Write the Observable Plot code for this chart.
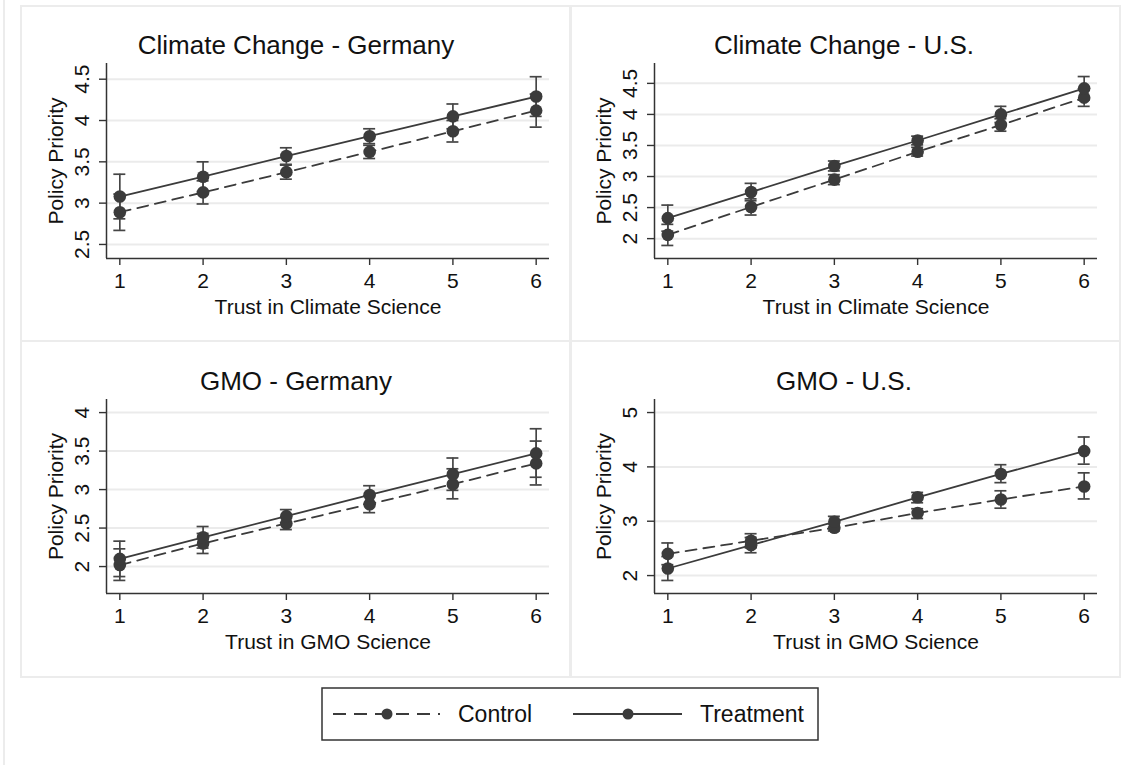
<!DOCTYPE html>
<html><head><meta charset="utf-8">
<script src="https://cdn.jsdelivr.net/npm/d3@7"></script>
<script src="https://cdn.jsdelivr.net/npm/@observablehq/plot@0.6"></script>
<style>
html,body{margin:0;padding:0;background:#fff;}
#root{position:relative;width:1129px;height:765px;overflow:hidden;font-family:"Liberation Sans",Arial,sans-serif;}
.box{position:absolute;box-sizing:border-box;border:2px solid #ececec;}
.title{position:absolute;width:548px;text-align:center;font-size:26px;line-height:26px;color:#111;white-space:nowrap;}
.plot{position:absolute;}
</style>
</head><body><div id="root"></div>
<script>
// ---- data ----
const trust = [1, 2, 3, 4, 5, 6];
const panelTitles = ["Climate Change - Germany", "Climate Change - U.S.", "GMO - Germany", "GMO - U.S."];
const xLabels = ["Trust in Climate Science", "Trust in Climate Science", "Trust in GMO Science", "Trust in GMO Science"];
const yLabel = "Policy Priority";
const groups = ["Control", "Treatment"];

// Climate Change - Germany
const ccDeControl   = [2.89, 3.13, 3.375, 3.62, 3.87, 4.12];
const ccDeControlLo = [2.67, 2.99, 3.29, 3.54, 3.74, 3.92];
const ccDeControlHi = [3.11, 3.27, 3.46, 3.70, 4.00, 4.32];
const ccDeTreat     = [3.08, 3.32, 3.57, 3.81, 4.05, 4.29];
const ccDeTreatLo   = [2.81, 3.14, 3.47, 3.72, 3.90, 4.05];
const ccDeTreatHi   = [3.35, 3.50, 3.67, 3.90, 4.20, 4.53];
const ccDeTicks = [2.5, 3, 3.5, 4, 4.5];

// Climate Change - U.S.
const ccUsControl   = [2.06, 2.51, 2.95, 3.40, 3.83, 4.27];
const ccUsControlLo = [1.89, 2.38, 2.87, 3.33, 3.73, 4.13];
const ccUsControlHi = [2.23, 2.64, 3.03, 3.47, 3.93, 4.41];
const ccUsTreat     = [2.33, 2.75, 3.17, 3.58, 4.00, 4.42];
const ccUsTreatLo   = [2.12, 2.61, 3.09, 3.51, 3.87, 4.23];
const ccUsTreatHi   = [2.54, 2.89, 3.25, 3.65, 4.13, 4.61];
const ccUsTicks = [2, 2.5, 3, 3.5, 4, 4.5];

// GMO - Germany
const gmDeControl   = [2.02, 2.30, 2.56, 2.81, 3.07, 3.34];
const gmDeControlLo = [1.82, 2.17, 2.48, 2.70, 2.88, 3.06];
const gmDeControlHi = [2.23, 2.43, 2.64, 2.92, 3.27, 3.63];
const gmDeTreat     = [2.10, 2.38, 2.655, 2.93, 3.20, 3.47];
const gmDeTreatLo   = [1.87, 2.24, 2.57, 2.81, 2.99, 3.16];
const gmDeTreatHi   = [2.33, 2.52, 2.74, 3.05, 3.41, 3.79];
const gmDeTicks = [2, 2.5, 3, 3.5, 4];

// GMO - U.S.
const gmUsControl   = [2.40, 2.64, 2.88, 3.15, 3.40, 3.64];
const gmUsControlLo = [2.20, 2.51, 2.82, 3.05, 3.24, 3.41];
const gmUsControlHi = [2.60, 2.77, 2.95, 3.23, 3.56, 3.89];
const gmUsTreat     = [2.13, 2.56, 2.99, 3.44, 3.87, 4.29];
const gmUsTreatLo   = [1.91, 2.42, 2.89, 3.34, 3.71, 4.05];
const gmUsTreatHi   = [2.35, 2.70, 3.09, 3.53, 4.04, 4.55];
const gmUsTicks = [2, 3, 4, 5];

// ---- layout ----
const panels = [
  {left: 22, top: 7, title: panelTitles[0], xLabel: xLabels[0], yDomain: [2.33, 4.69], yTicks: ccDeTicks,
   c: [ccDeControl, ccDeControlLo, ccDeControlHi], t: [ccDeTreat, ccDeTreatLo, ccDeTreatHi], mt: 56, mb: 83, titleTop: 32},
  {left: 570, top: 7, title: panelTitles[1], xLabel: xLabels[1], yDomain: [1.68, 4.82], yTicks: ccUsTicks,
   c: [ccUsControl, ccUsControlLo, ccUsControlHi], t: [ccUsTreat, ccUsTreatLo, ccUsTreatHi], mt: 56, mb: 83, titleTop: 32},
  {left: 22, top: 342, title: panelTitles[2], xLabel: xLabels[2], yDomain: [1.65, 4.17], yTicks: gmDeTicks,
   c: [gmDeControl, gmDeControlLo, gmDeControlHi], t: [gmDeTreat, gmDeTreatLo, gmDeTreatHi], mt: 57, mb: 83, titleTop: 368},
  {left: 570, top: 342, title: panelTitles[3], xLabel: xLabels[3], yDomain: [1.67, 5.24], yTicks: gmUsTicks,
   c: [gmUsControl, gmUsControlLo, gmUsControlHi], t: [gmUsTreat, gmUsTreatLo, gmUsTreatHi], mt: 57, mb: 83, titleTop: 368}
];

const root = document.getElementById("root");
const ink = "#3b3b3b";
const xDomain = [0.84, 6.16];

// outer left line and panel boxes
const edge = document.createElement("div");
Object.assign(edge.style, {position: "absolute", left: "3px", top: "0px", width: "2px", height: "765px", background: "#ececec"});
root.appendChild(edge);
[[20, 5, 552, 337], [569, 5, 552, 337], [20, 340, 552, 338], [569, 340, 552, 338]].forEach(([l, t, w, h]) => {
  const b = document.createElement("div");
  b.className = "box";
  Object.assign(b.style, {left: l + "px", top: t + "px", width: w + "px", height: h + "px"});
  root.appendChild(b);
});

panels.forEach(p => {
  const rows = [];
  trust.forEach((x, i) => rows.push({x, group: groups[0], y: p.c[0][i], lo: p.c[1][i], hi: p.c[2][i]}));
  trust.forEach((x, i) => rows.push({x, group: groups[1], y: p.t[0][i], lo: p.t[1][i], hi: p.t[2][i]}));
  const ctrl = rows.filter(d => d.group === "Control");
  const trt = rows.filter(d => d.group === "Treatment");

  const chart = Plot.plot({
    width: 548, height: 334,
    marginLeft: 84, marginRight: 21, marginTop: p.mt, marginBottom: p.mb,
    style: {fontFamily: "'Liberation Sans', Arial, sans-serif", fontSize: "21px", color: "#111", background: "transparent", overflow: "visible"},
    x: {domain: xDomain},
    y: {domain: p.yDomain},
    marks: [
      Plot.gridY(p.yTicks, {stroke: "#ebebeb", strokeOpacity: 1, strokeWidth: 2}),
      Plot.axisY(p.yTicks, {tickRotate: -90, tickSize: 7, tickPadding: 11, stroke: "#333", strokeWidth: 1.4, fontSize: 21,
        tickFormat: d => String(d), label: yLabel, labelAnchor: "center", labelArrow: "none", labelOffset: 58}),
      Plot.axisX(trust, {tickSize: 7, tickPadding: 8, stroke: "#333", strokeWidth: 1.4, fontSize: 21,
        tickFormat: d => String(d), label: p.xLabel, labelAnchor: "center", labelArrow: "none", labelOffset: 55}),
      Plot.ruleX([xDomain[0]], {stroke: "#333", strokeWidth: 1.5}),
      Plot.ruleY([p.yDomain[0]], {stroke: "#333", strokeWidth: 1.5}),
      Plot.line(ctrl, {x: "x", y: "y", stroke: ink, strokeWidth: 1.8, strokeDasharray: "11,7"}),
      Plot.line(trt, {x: "x", y: "y", stroke: ink, strokeWidth: 1.8}),
      Plot.ruleX(rows, {x: "x", y1: "lo", y2: "hi", stroke: "#454545", strokeWidth: 1.7}),
      Plot.ruleY(rows, {y: "lo", x1: "x", x2: "x", insetLeft: -6, insetRight: -6, stroke: "#454545", strokeWidth: 1.7}),
      Plot.ruleY(rows, {y: "hi", x1: "x", x2: "x", insetLeft: -6, insetRight: -6, stroke: "#454545", strokeWidth: 1.7}),
      Plot.dot(ctrl, {x: "x", y: "y", r: 6.3, fill: ink}),
      Plot.dot(trt, {x: "x", y: "y", r: 6.3, fill: ink})
    ]
  });
  chart.classList.add("plot");
  chart.style.left = p.left + "px";
  chart.style.top = p.top + "px";
  root.appendChild(chart);

  const t = document.createElement("div");
  t.className = "title";
  t.textContent = p.title;
  t.style.left = p.left + "px";
  t.style.top = p.titleTop + "px";
  root.appendChild(t);
});

// ---- legend ----
const lg = d3.select(root).append("svg")
  .attr("width", 498).attr("height", 54)
  .style("position", "absolute").style("left", "321px").style("top", "687px")
  .style("font-family", "'Liberation Sans', Arial, sans-serif");
lg.append("rect").attr("x", 1).attr("y", 1).attr("width", 496).attr("height", 52)
  .attr("fill", "#fff").attr("stroke", "#333").attr("stroke-width", 1.5);
const legendItems = [
  {label: groups[0], x1: 12, x2: 119, dot: 66, tx: 137, dash: "13,8"},
  {label: groups[1], x1: 252, x2: 361, dot: 307, tx: 379, dash: null}
];
legendItems.forEach(it => {
  const ln = lg.append("line").attr("x1", it.x1).attr("x2", it.x2).attr("y1", 27).attr("y2", 27)
    .attr("stroke", ink).attr("stroke-width", 1.8);
  if (it.dash) ln.attr("stroke-dasharray", it.dash);
  lg.append("circle").attr("cx", it.dot).attr("cy", 27).attr("r", 5.5).attr("fill", ink);
  lg.append("text").attr("x", it.tx).attr("y", 27).attr("dy", "0.35em")
    .attr("font-size", 23).attr("fill", "#111").text(it.label);
});
</script>
</body></html>
